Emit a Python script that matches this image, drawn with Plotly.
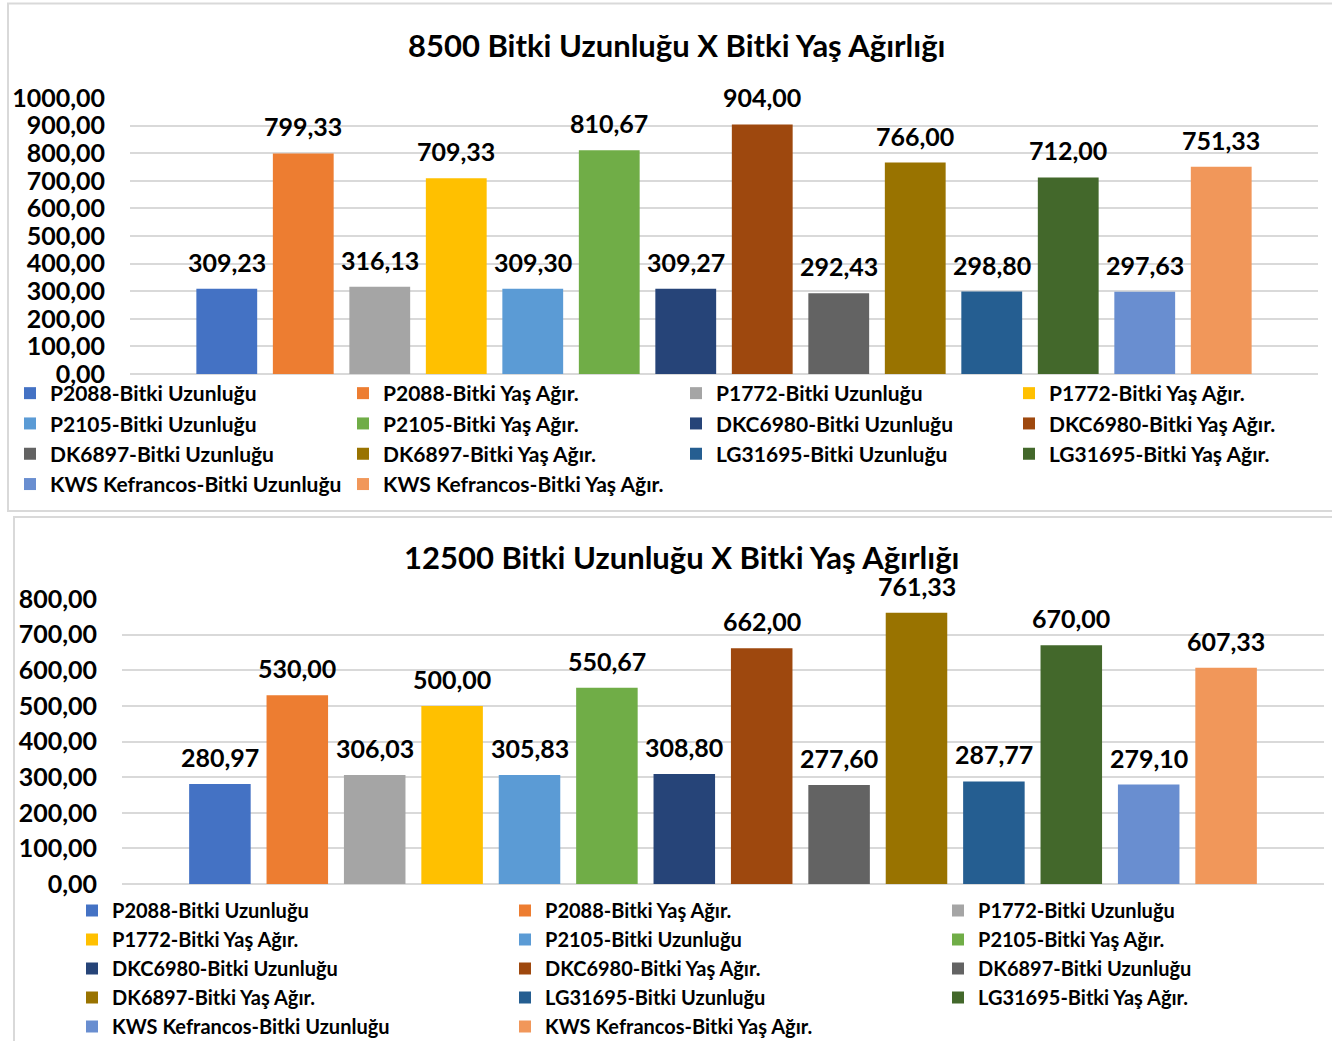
import plotly.graph_objects as go

# Hybrid names and colours (one "Uzunluğu" and one "Yaş Ağır." bar per hybrid)
series_names = [
    "P2088-Bitki Uzunluğu", "P2088-Bitki Yaş Ağır.",
    "P1772-Bitki Uzunluğu", "P1772-Bitki Yaş Ağır.",
    "P2105-Bitki Uzunluğu", "P2105-Bitki Yaş Ağır.",
    "DKC6980-Bitki Uzunluğu", "DKC6980-Bitki Yaş Ağır.",
    "DK6897-Bitki Uzunluğu", "DK6897-Bitki Yaş Ağır.",
    "LG31695-Bitki Uzunluğu", "LG31695-Bitki Yaş Ağır.",
    "KWS Kefrancos-Bitki Uzunluğu", "KWS Kefrancos-Bitki Yaş Ağır.",
]
series_colors = [
    "#4472C4", "#ED7D31", "#A5A5A5", "#FFC000", "#5B9BD5", "#70AD47",
    "#264478", "#9E480E", "#636363", "#997300", "#255E91", "#43682B",
    "#698ED0", "#F1975A",
]

# 8500 plant density
values_8500 = [309.23, 799.33, 316.13, 709.33, 309.30, 810.67, 309.27,
               904.00, 292.43, 766.00, 298.80, 712.00, 297.63, 751.33]
# 12500 plant density
values_12500 = [280.97, 530.00, 306.03, 500.00, 305.83, 550.67, 308.80,
                662.00, 277.60, 761.33, 287.77, 670.00, 279.10, 607.33]

title_8500 = "8500 Bitki Uzunluğu X Bitki Yaş Ağırlığı"
title_12500 = "12500 Bitki Uzunluğu X Bitki Yaş Ağırlığı"

FONT = "Lato, sans-serif"
W, H = 1332, 1041


def px_x(p):
    return p / W


def px_y(p):
    return 1 - p / H


def fmt(v):
    return f"{v:.2f}".replace(".", ",")


fig = go.Figure()

panels = [
    (values_8500, "x", "y", "legend"),
    (values_12500, "x2", "y2", "legend2"),
]
for vals, xa, ya, leg in panels:
    for name, color, v in zip(series_names, series_colors, vals):
        fig.add_trace(go.Bar(
            x=[name], y=[v], name=name, marker_color=color,
            marker_line_width=0, xaxis=xa, yaxis=ya, legend=leg,
            hovertemplate="%{x}: %{y:.2f}<extra></extra>",
        ))
        fig.add_annotation(
            x=name, y=v, xref=xa, yref=ya, text=fmt(v), showarrow=False,
            yanchor="middle", yshift=27,
            font=dict(family=FONT, size=25, color="#000000", weight="bold"),
        )

n = len(series_names)
pad = 0.765
axis_common = dict(
    showticklabels=False, showgrid=False, zeroline=False, showline=False,
    ticks="", fixedrange=True,
)
yaxis_common = dict(
    showgrid=True, gridcolor="#D9D9D9", gridwidth=2,
    zeroline=True, zerolinecolor="#D9D9D9", zerolinewidth=2,
    showline=False, tickformat=".2f", ticks="",
    tickfont=dict(family=FONT, size=25, color="#000000", weight="bold"),
    ticklabelstandoff=24, fixedrange=True,
)
legend_common = dict(
    orientation="h", xanchor="left", yanchor="top",
    entrywidthmode="pixels", traceorder="normal",
    bgcolor="rgba(0,0,0,0)", itemclick=False, itemdoubleclick=False,
)

fig.update_layout(
    width=W, height=H,
    margin=dict(l=0, r=0, t=0, b=0, autoexpand=False),
    paper_bgcolor="white", plot_bgcolor="white",
    separators=",.",
    barmode="overlay", bargap=0.205,
    showlegend=True,
    xaxis=dict(domain=[px_x(130), px_x(1318)], range=[-0.5 - pad, n - 0.5 + pad],
               anchor="y", **axis_common),
    yaxis=dict(domain=[px_y(374), px_y(98)], range=[0, 1000], dtick=100,
               anchor="x", **yaxis_common),
    xaxis2=dict(domain=[px_x(122), px_x(1324)], range=[-0.5 - pad, n - 0.5 + pad],
                anchor="y2", **axis_common),
    yaxis2=dict(domain=[px_y(884), px_y(599)], range=[0, 800], dtick=100,
                anchor="x2", **yaxis_common),
    legend=dict(x=px_x(10), y=px_y(373), entrywidth=288,
                font=dict(family=FONT, size=21, color="#000000", weight="bold"),
                **legend_common),
    legend2=dict(x=px_x(72), y=px_y(891), entrywidth=388,
                 font=dict(family=FONT, size=20, color="#000000", weight="bold"),
                 **legend_common),
)

# Chart titles
for text, cx, cy in [(title_8500, 677, 45), (title_12500, 682, 557)]:
    fig.add_annotation(
        x=px_x(cx), y=px_y(cy), xref="paper", yref="paper", text=text,
        showarrow=False, xanchor="center", yanchor="middle",
        font=dict(family=FONT, size=31, color="#000000", weight="bold"),
    )

# Chart frames
fig.add_shape(type="rect", xref="paper", yref="paper",
              x0=px_x(8), x1=px_x(1340), y0=px_y(511), y1=px_y(3.5),
              line=dict(color="#D9D9D9", width=2), fillcolor="rgba(0,0,0,0)",
              layer="below")
fig.add_shape(type="rect", xref="paper", yref="paper",
              x0=px_x(14), x1=px_x(1340), y0=px_y(1050), y1=px_y(517),
              line=dict(color="#D9D9D9", width=2), fillcolor="rgba(0,0,0,0)",
              layer="below")

fig.write_html("out.html")
